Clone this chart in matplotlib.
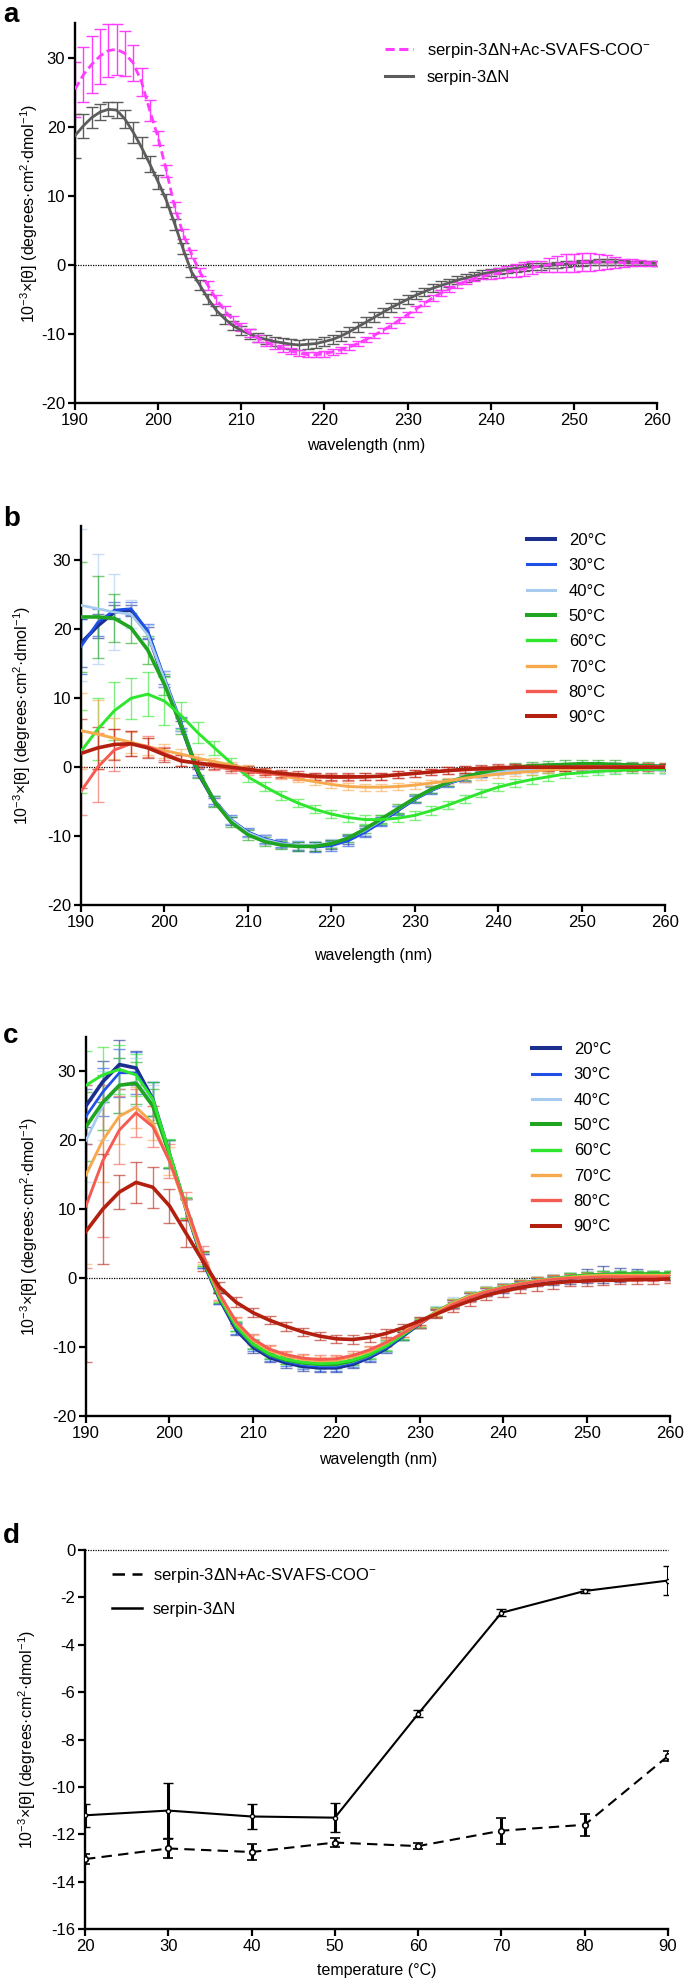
import matplotlib
matplotlib.use('Agg')
import matplotlib.pyplot as plt
from matplotlib.lines import Line2D

plt.rcParams['font.family'] = ['Liberation Sans', 'DejaVu Sans']
plt.rcParams['axes.unicode_minus'] = False
plt.rcParams['mathtext.default'] = 'regular'

# ---------------- data ----------------
wl_a = list(range(190, 261))
gray_a = [18.7, 20.1, 21.3, 22.1, 22.5, 22.4, 21.1, 19.2, 17.0, 14.6,
          12.0, 9.3, 5.9, 2.3, -1.0, -2.9, -4.9, -6.6, -7.8, -8.8,
          -9.5, -10.0, -10.5, -10.8, -11.1, -11.3, -11.5, -11.6, -11.5, -11.4,
          -11.1, -10.8, -10.3, -9.7, -9.0, -8.3, -7.6, -6.9, -6.2, -5.6,
          -5.0, -4.4, -3.9, -3.4, -3.0, -2.6, -2.2, -1.9, -1.6, -1.3,
          -1.1, -0.9, -0.7, -0.5, -0.4, -0.3, -0.2, -0.1, 0.0, 0.1,
          0.2, 0.3, 0.35, 0.4, 0.4, 0.4, 0.35, 0.3, 0.3, 0.25,
          0.2]
gray_a_err = [3.2, 1.8, 1.5, 1.2, 1.0, 1.1, 1.3, 1.5, 1.5, 1.2,
              1.0, 0.9, 0.8, 0.8, 0.7, 0.7, 0.7, 0.7, 0.7, 0.7,
              0.7, 0.7, 0.7, 0.7, 0.7, 0.7, 0.7, 0.7, 0.7, 0.7,
              0.7, 0.7, 0.7, 0.7, 0.7, 0.7, 0.7, 0.7, 0.7, 0.7,
              0.6, 0.6, 0.6, 0.6, 0.6, 0.6, 0.6, 0.6, 0.6, 0.6,
              0.5, 0.5, 0.5, 0.5, 0.5, 0.5, 0.5, 0.4, 0.4, 0.4,
              0.4, 0.4, 0.4, 0.4, 0.4, 0.4, 0.4, 0.3, 0.3, 0.3,
              0.3]
magenta_a = [25.4, 27.5, 29.0, 30.2, 31.0, 31.2, 30.6, 29.2, 26.5, 22.3,
             18.4, 13.6, 8.3, 4.5, 1.6, -1.0, -3.0, -5.0, -6.6, -8.0,
             -9.0, -9.9, -10.6, -11.2, -11.7, -12.1, -12.5, -12.8, -13.0, -13.0,
             -12.9, -12.6, -12.3, -11.9, -11.4, -10.8, -10.2, -9.5, -8.8, -8.0,
             -7.2, -6.4, -5.6, -4.8, -4.1, -3.5, -2.9, -2.4, -2.0, -1.7,
             -1.4, -1.2, -1.0, -0.8, -0.6, -0.4, -0.2, 0.0, 0.1, 0.2,
             0.3, 0.4, 0.4, 0.4, 0.4, 0.4, 0.3, 0.3, 0.3, 0.2,
             0.2]
magenta_a_err = [4.0, 4.0, 4.1, 4.0, 3.8, 3.7, 3.2, 2.6, 2.0, 1.5,
                 1.0, 0.9, 0.8, 0.7, 0.6, 0.6, 0.6, 0.6, 0.6, 0.6,
                 0.6, 0.6, 0.5, 0.5, 0.5, 0.5, 0.4, 0.4, 0.4, 0.4,
                 0.4, 0.4, 0.4, 0.4, 0.4, 0.4, 0.4, 0.4, 0.4, 0.4,
                 0.4, 0.4, 0.4, 0.4, 0.4, 0.4, 0.4, 0.4, 0.4, 0.4,
                 0.6, 0.7, 0.8, 0.9, 1.0, 0.9, 0.8, 1.0, 1.2, 1.3,
                 1.3, 1.3, 1.3, 1.2, 1.0, 0.8, 0.6, 0.5, 0.4, 0.3,
                 0.3]

wl_bc = list(range(190, 261, 2))
temp_labels = ['20°C', '30°C', '40°C', '50°C', '60°C', '70°C', '80°C', '90°C']

b20 = [18.0, 20.5, 22.5, 22.8, 19.5, 12.5, 6.0, -0.8, -5.0, -7.8, -9.5, -10.5, -11.1, -11.4, -11.5, -11.2, -10.5, -9.3,
       -7.8, -6.2, -4.6, -3.3, -2.3, -1.6, -1.0, -0.6, -0.3, -0.1, 0.0, 0.1, 0.2, 0.2, 0.2, 0.1, 0.1, 0.1]
b30 = [17.5, 21.0, 22.8, 23.0, 19.8, 13.0, 6.5, -0.5, -4.8, -7.6, -9.4, -10.4, -11.0, -11.4, -11.6, -11.4, -10.7, -9.5,
       -8.0, -6.3, -4.7, -3.4, -2.4, -1.6, -1.0, -0.6, -0.3, -0.1, 0.0, 0.1, 0.2, 0.2, 0.2, 0.2, 0.1, 0.1]
b40 = [23.5, 23.0, 22.5, 22.2, 19.2, 12.8, 6.2, -0.6, -4.9, -7.7, -9.5, -10.5, -11.1, -11.3, -11.3, -11.0, -10.3, -9.2,
       -7.7, -6.1, -4.6, -3.3, -2.3, -1.6, -1.1, -0.7, -0.5, -0.4, -0.3, -0.3, -0.3, -0.3, -0.3, -0.4, -0.4, -0.5]
b50 = [21.8, 21.8, 21.6, 20.2, 17.0, 12.0, 6.0, -0.5, -5.0, -8.0, -9.8, -10.8, -11.3, -11.5, -11.5, -11.1, -10.3, -9.0,
       -7.5, -6.0, -4.5, -3.2, -2.2, -1.4, -0.8, -0.3, 0.0, 0.2, 0.3, 0.4, 0.5, 0.5, 0.4, 0.3, 0.2, 0.1]
b60 = [2.3, 5.5, 8.2, 10.0, 10.6, 9.6, 7.5, 5.0, 2.8, 0.6, -1.4, -2.8, -4.1, -5.2, -6.1, -6.8, -7.3, -7.6,
       -7.6, -7.4, -7.0, -6.3, -5.5, -4.6, -3.7, -2.9, -2.3, -1.8, -1.4, -1.0, -0.8, -0.6, -0.5, -0.4, -0.3, -0.3]
b70 = [5.3, 4.8, 4.2, 3.6, 3.0, 2.4, 1.9, 1.3, 0.8, 0.3, -0.2, -0.7, -1.2, -1.7, -2.1, -2.5, -2.8, -2.9,
       -2.9, -2.8, -2.6, -2.3, -2.0, -1.6, -1.3, -1.0, -0.8, -0.6, -0.4, -0.3, -0.2, -0.1, -0.1, 0.0, 0.0, 0.0]
b80 = [-3.5, 0.0, 2.5, 3.4, 3.0, 2.0, 1.0, 0.5, 0.1, -0.3, -0.6, -0.9, -1.1, -1.3, -1.4, -1.5, -1.5, -1.4,
       -1.3, -1.1, -0.9, -0.7, -0.5, -0.4, -0.3, -0.2, -0.1, 0.0, 0.0, 0.0, 0.1, 0.1, 0.1, 0.1, 0.1, 0.1]
b90 = [2.0, 2.8, 3.3, 3.4, 2.8, 1.8, 0.9, 0.6, 0.3, 0.0, -0.3, -0.6, -0.9, -1.1, -1.3, -1.4, -1.4, -1.4,
       -1.3, -1.1, -0.9, -0.7, -0.5, -0.3, -0.2, -0.1, 0.0, 0.0, 0.0, 0.0, 0.0, 0.0, 0.0, 0.0, 0.0, 0.0]

b20_err = [3.5, 1.8, 1.0, 0.8, 0.9, 0.8, 0.7, 0.6, 0.6, 0.6, 0.6, 0.6, 0.6, 0.6, 0.6, 0.7, 0.7, 0.7,
           0.6, 0.6, 0.5, 0.5, 0.5, 0.4, 0.4, 0.4, 0.4, 0.4, 0.4, 0.4, 0.4, 0.4, 0.4, 0.4, 0.4, 0.4]
b30_err = [4.0, 2.0, 1.2, 0.9, 1.0, 0.9, 0.8, 0.7, 0.6, 0.6, 0.6, 0.6, 0.6, 0.7, 0.7, 0.7, 0.7, 0.7,
           0.6, 0.6, 0.5, 0.5, 0.5, 0.5, 0.4, 0.4, 0.4, 0.4, 0.4, 0.4, 0.4, 0.4, 0.4, 0.4, 0.4, 0.4]
b40_err = [11.0, 8.0, 5.5, 2.0, 1.5, 1.2, 1.0, 0.8, 0.7, 0.6, 0.6, 0.6, 0.6, 0.6, 0.6, 0.6, 0.6, 0.6,
           0.6, 0.5, 0.5, 0.5, 0.5, 0.5, 0.5, 0.5, 0.5, 0.5, 0.5, 0.5, 0.5, 0.5, 0.5, 0.5, 0.5, 0.5]
b50_err = [8.0, 6.0, 3.5, 2.2, 2.0, 1.5, 1.2, 1.0, 0.8, 0.7, 0.7, 0.6, 0.6, 0.6, 0.6, 0.6, 0.6, 0.6,
           0.6, 0.6, 0.6, 0.5, 0.5, 0.5, 0.5, 0.5, 0.6, 0.6, 0.6, 0.6, 0.6, 0.6, 0.6, 0.5, 0.5, 0.5]
b60_err = [6.0, 4.5, 4.2, 3.0, 3.2, 3.5, 2.0, 1.5, 1.0, 0.8, 0.7, 0.7, 0.6, 0.6, 0.6, 0.6, 0.6, 0.6,
           0.6, 0.6, 0.6, 0.6, 0.6, 0.6, 0.6, 0.6, 0.6, 0.6, 0.6, 0.5, 0.5, 0.5, 0.5, 0.5, 0.5, 0.5]
b70_err = [5.5, 5.0, 3.0, 1.5, 1.2, 1.0, 0.8, 0.6, 0.5, 0.5, 0.5, 0.5, 0.5, 0.5, 0.5, 0.5, 0.5, 0.5,
           0.5, 0.5, 0.5, 0.5, 0.5, 0.5, 0.5, 0.5, 0.5, 0.5, 0.5, 0.5, 0.5, 0.5, 0.5, 0.5, 0.5, 0.5]
b80_err = [3.5, 5.0, 3.0, 1.8, 1.5, 1.0, 0.8, 0.6, 0.5, 0.5, 0.5, 0.5, 0.5, 0.5, 0.5, 0.5, 0.5, 0.5,
           0.5, 0.5, 0.5, 0.5, 0.5, 0.5, 0.5, 0.5, 0.5, 0.5, 0.5, 0.5, 0.5, 0.5, 0.5, 0.5, 0.5, 0.5]
b90_err = [5.0, 3.0, 2.2, 1.8, 1.5, 1.0, 0.8, 0.6, 0.5, 0.5, 0.5, 0.5, 0.5, 0.5, 0.5, 0.5, 0.5, 0.5,
           0.5, 0.5, 0.5, 0.5, 0.5, 0.5, 0.5, 0.5, 0.5, 0.5, 0.5, 0.5, 0.5, 0.5, 0.5, 0.5, 0.5, 0.5]

c20 = [25.0, 28.5, 31.0, 30.5, 26.0, 18.0, 10.0, 2.5, -3.0, -7.5, -10.0, -11.5, -12.3, -12.8, -13.0, -13.0, -12.5, -11.5,
       -10.2, -8.4, -6.6, -5.0, -3.7, -2.7, -2.0, -1.5, -1.0, -0.6, -0.3, 0.0, 0.3, 0.5, 0.5, 0.5, 0.4, 0.4]
c30 = [23.5, 27.0, 29.8, 29.8, 26.0, 18.0, 10.0, 2.5, -3.0, -7.3, -9.8, -11.3, -12.1, -12.6, -12.8, -12.8, -12.3, -11.4,
       -10.1, -8.4, -6.6, -5.0, -3.7, -2.7, -2.0, -1.4, -0.9, -0.5, -0.2, 0.1, 0.4, 0.6, 0.6, 0.5, 0.4, 0.4]
c40 = [20.0, 25.0, 28.0, 28.5, 25.5, 18.0, 10.0, 2.6, -2.8, -7.0, -9.6, -11.1, -11.9, -12.4, -12.6, -12.6, -12.1, -11.2,
       -9.9, -8.2, -6.5, -4.8, -3.5, -2.5, -1.8, -1.2, -0.7, -0.3, 0.0, 0.2, 0.4, 0.5, 0.5, 0.5, 0.5, 0.5]
c50 = [22.0, 25.5, 28.0, 28.3, 25.0, 18.0, 10.2, 2.8, -2.8, -7.0, -9.6, -11.1, -11.9, -12.3, -12.5, -12.5, -12.0, -11.1,
       -9.8, -8.2, -6.5, -4.9, -3.6, -2.6, -1.9, -1.3, -0.8, -0.4, -0.1, 0.2, 0.4, 0.5, 0.6, 0.6, 0.6, 0.6]
c60 = [28.0, 29.5, 30.3, 29.5, 26.0, 18.2, 10.3, 2.8, -2.7, -6.9, -9.5, -11.0, -11.8, -12.2, -12.4, -12.3, -11.9, -11.0,
       -9.8, -8.2, -6.5, -4.9, -3.6, -2.6, -1.9, -1.3, -0.8, -0.4, -0.1, 0.2, 0.4, 0.5, 0.5, 0.5, 0.5, 0.5]
c70 = [15.0, 20.0, 23.5, 24.8, 22.5, 17.0, 10.0, 3.0, -2.5, -6.5, -9.0, -10.5, -11.3, -11.8, -12.0, -11.9, -11.4, -10.6,
       -9.4, -7.9, -6.4, -4.9, -3.6, -2.6, -1.9, -1.3, -0.8, -0.4, -0.1, 0.1, 0.3, 0.4, 0.4, 0.4, 0.4, 0.4]
c80 = [10.5, 17.0, 21.5, 24.0, 22.0, 17.0, 10.5, 3.5, -2.3, -6.3, -8.8, -10.3, -11.1, -11.6, -11.8, -11.7, -11.2, -10.4,
       -9.3, -8.0, -6.6, -5.1, -3.8, -2.8, -2.0, -1.4, -0.9, -0.5, -0.2, 0.0, 0.1, 0.2, 0.2, 0.2, 0.2, 0.2]
c90 = [6.8, 10.0, 12.5, 13.9, 13.2, 10.5, 6.5, 2.5, -1.3, -3.5, -5.0, -6.1, -7.0, -7.8, -8.4, -8.8, -8.9, -8.6,
       -8.0, -7.2, -6.2, -5.2, -4.2, -3.3, -2.5, -1.9, -1.4, -1.0, -0.7, -0.5, -0.4, -0.3, -0.3, -0.2, -0.2, -0.1]

c20_err = [3.0, 3.0, 3.5, 2.5, 2.5, 2.0, 1.5, 1.0, 0.8, 0.8, 0.8, 0.7, 0.7, 0.6, 0.6, 0.6, 0.6, 0.6,
           0.6, 0.6, 0.6, 0.6, 0.6, 0.6, 0.6, 0.6, 0.6, 0.6, 0.7, 0.8, 1.0, 1.2, 1.0, 0.8, 0.6, 0.6]
c30_err = [4.0, 3.5, 3.5, 3.0, 2.5, 2.0, 1.5, 1.0, 0.8, 0.8, 0.7, 0.7, 0.6, 0.6, 0.6, 0.6, 0.6, 0.6,
           0.6, 0.6, 0.6, 0.6, 0.6, 0.6, 0.6, 0.5, 0.5, 0.5, 0.5, 0.5, 0.5, 0.5, 0.5, 0.5, 0.5, 0.5]
c40_err = [6.0, 5.0, 4.0, 3.5, 2.5, 2.0, 1.5, 1.0, 0.8, 0.7, 0.7, 0.6, 0.6, 0.6, 0.6, 0.6, 0.6, 0.7,
           0.8, 0.8, 0.8, 0.8, 0.7, 0.6, 0.6, 0.5, 0.5, 0.5, 0.5, 0.5, 0.5, 0.5, 0.5, 0.5, 0.5, 0.5]
c50_err = [5.0, 4.0, 4.0, 3.0, 2.5, 2.0, 1.5, 1.0, 0.8, 0.7, 0.7, 0.6, 0.6, 0.6, 0.6, 0.6, 0.6, 0.7,
           0.8, 0.8, 0.7, 0.7, 0.6, 0.6, 0.6, 0.5, 0.5, 0.5, 0.5, 0.5, 0.5, 0.5, 0.5, 0.5, 0.5, 0.5]
c60_err = [5.0, 4.0, 3.5, 3.0, 2.5, 2.0, 1.5, 1.0, 0.8, 0.7, 0.7, 0.6, 0.6, 0.6, 0.6, 0.6, 0.6, 0.6,
           0.6, 0.6, 0.6, 0.6, 0.6, 0.6, 0.6, 0.5, 0.5, 0.5, 0.5, 0.5, 0.5, 0.5, 0.5, 0.5, 0.6, 0.6]
c70_err = [13.0, 6.0, 4.0, 3.0, 2.5, 2.0, 1.5, 1.0, 0.8, 0.7, 0.7, 0.6, 0.6, 0.6, 0.6, 0.6, 0.6, 0.6,
           0.6, 0.6, 0.6, 0.6, 0.6, 0.6, 0.6, 0.5, 0.5, 0.5, 0.5, 0.5, 0.5, 0.5, 0.5, 0.5, 0.5, 0.5]
c80_err = [9.0, 11.0, 5.0, 3.5, 3.0, 2.5, 2.0, 1.2, 0.8, 0.7, 0.7, 0.6, 0.6, 0.6, 0.6, 0.6, 0.6, 0.6,
           0.6, 0.6, 0.6, 0.6, 0.6, 0.6, 0.6, 0.6, 0.6, 0.6, 0.6, 0.6, 0.6, 0.6, 0.6, 0.6, 0.6, 0.6]
c90_err = [19.0, 8.0, 2.5, 3.0, 3.0, 2.5, 2.0, 1.5, 0.8, 0.7, 0.7, 0.6, 0.6, 0.6, 0.6, 0.6, 0.6, 0.6,
           0.6, 0.6, 0.6, 0.6, 0.7, 0.7, 0.7, 0.8, 0.8, 0.8, 0.8, 0.7, 0.7, 0.7, 0.6, 0.6, 0.6, 0.6]

temps_d = [20, 30, 40, 50, 60, 70, 80, 90]
d_pep = [-13.05, -12.6, -12.75, -12.35, -12.5, -11.85, -11.6, -8.7]
d_pep_err = [0.2, 0.42, 0.35, 0.2, 0.12, 0.55, 0.47, 0.2]
d_apo = [-11.2, -11.0, -11.25, -11.3, -6.92, -2.65, -1.73, -1.29]
d_apo_err = [0.48, 1.15, 0.52, 0.6, 0.15, 0.15, 0.08, 0.6]

label_pep = 'serpin-3ΔN+Ac-SVAFS-COO$^{-}$'
label_apo = 'serpin-3ΔN'
ylab = '10$^{-3}$×[θ] (degrees·cm$^{2}$·dmol$^{-1}$)'

# ---------------- styling ----------------
MAG = '#ff3dff'
GRAY = '#5c5c5c'
temp_colors = ['#1c2f8f', '#1f50e6', '#a7cbef', '#1fa51f', '#2ee62e', '#f7a94e', '#f45b52', '#b3200f']
temp_lw = [2.6, 1.9, 1.9, 2.6, 2.1, 2.1, 2.1, 2.6]

W, H = 685, 1984
fig = plt.figure(figsize=(W / 100, H / 100), dpi=100)


def add_ax(l, r, t, b):
    return fig.add_axes([l / W, 1 - b / H, (r - l) / W, (b - t) / H])


def style(ax, xlim, ylim, xticks, yticks):
    ax.set_xlim(*xlim)
    ax.set_ylim(*ylim)
    ax.set_xticks(xticks)
    ax.set_yticks(yticks)
    for s in ['top', 'right']:
        ax.spines[s].set_visible(False)
    for s in ['left', 'bottom']:
        ax.spines[s].set_linewidth(1.7)
    ax.tick_params(direction='out', length=5, width=1.6, labelsize=12, pad=2)


def labels(ax, xlabel, ylab_x, xlab_y):
    ax.set_xlabel(xlabel, fontsize=11.5)
    ax.set_ylabel(ylab, fontsize=11.5)
    ax.xaxis.set_label_coords(0.5, xlab_y)
    ax.yaxis.set_label_coords(ylab_x, 0.5)


axa = add_ax(75, 657, 23, 403)
axb = add_ax(81, 665, 526, 905)
axc = add_ax(86, 670, 1037, 1416)
axd = add_ax(85, 668, 1550, 1929)

# ---------------- panel a ----------------
axa.axhline(0, color='black', ls=(0, (1, 1)), lw=0.9, zorder=1)
axa.errorbar(wl_a, gray_a, yerr=gray_a_err, fmt='none', ecolor=GRAY, elinewidth=1.0,
             capsize=4.5, capthick=1.0, zorder=2)
axa.errorbar(wl_a, magenta_a, yerr=magenta_a_err, fmt='none', ecolor=MAG, elinewidth=1.0,
             capsize=4.5, capthick=1.0, zorder=2)
axa.plot(wl_a, gray_a, color=GRAY, lw=2.0, zorder=3)
axa.plot(wl_a, magenta_a, color=MAG, lw=2.0, ls=(0, (3, 1.5)), zorder=3)
style(axa, (190, 260), (-20, 35), range(190, 261, 10), range(-20, 31, 10))
labels(axa, 'wavelength (nm)', -0.06, -0.092)
ha = [Line2D([], [], color=MAG, lw=2.2, ls=(0, (3, 1.5))), Line2D([], [], color=GRAY, lw=2.2)]
fig.legend(ha, [label_pep, label_apo], loc='upper left', bbox_to_anchor=(385 / W, 1 - 41 / H),
           frameon=False, fontsize=12, handlelength=1.7, handletextpad=0.8, labelspacing=0.6,
           borderpad=0, borderaxespad=0)

# ---------------- panels b & c ----------------
b_vals = [b20, b30, b40, b50, b60, b70, b80, b90]
b_errs = [b20_err, b30_err, b40_err, b50_err, b60_err, b70_err, b80_err, b90_err]
c_vals = [c20, c30, c40, c50, c60, c70, c80, c90]
c_errs = [c20_err, c30_err, c40_err, c50_err, c60_err, c70_err, c80_err, c90_err]

for ax, vals, errs, leg_x, leg_top, ylx, xly in [
        (axb, b_vals, b_errs, 527, 533, -0.082, -0.113),
        (axc, c_vals, c_errs, 532, 1042, -0.079, -0.095)]:
    ax.axhline(0, color='black', ls=(0, (1, 1)), lw=0.9, zorder=1)
    for v, e, col in zip(vals, errs, temp_colors):
        ax.errorbar(wl_bc, v, yerr=e, fmt='none', ecolor=col, elinewidth=1.0,
                    capsize=4.5, capthick=1.0, alpha=0.6, zorder=2)
    for v, col, lw in zip(vals, temp_colors, temp_lw):
        ax.plot(wl_bc, v, color=col, lw=lw, zorder=3)
    style(ax, (190, 260), (-20, 35), range(190, 261, 10), range(-20, 31, 10))
    labels(ax, 'wavelength (nm)', ylx, xly)
    hs = [Line2D([], [], color=c, lw=lw + 0.3) for c, lw in zip(temp_colors, temp_lw)]
    fig.legend(hs, temp_labels, loc='upper left', bbox_to_anchor=(leg_x / W, 1 - leg_top / H),
               frameon=False, fontsize=12, handlelength=1.65, handletextpad=0.85, labelspacing=0.62,
               borderpad=0, borderaxespad=0)

# ---------------- panel d ----------------
axd.axhline(0, color='black', ls=(0, (1, 1)), lw=0.9, zorder=1, clip_on=False)
axd.errorbar(temps_d, d_apo, yerr=d_apo_err, color='black', lw=1.5, ls='-',
             elinewidth=2.2, capsize=3.5, capthick=2.2, marker='o', ms=3,
             mfc='white', mec='black', mew=1.0, zorder=3)
axd.errorbar(temps_d, d_pep, yerr=d_pep_err, color='black', lw=1.5, ls=(0, (5, 3)),
             elinewidth=2.2, capsize=3.5, capthick=2.2, marker='o', ms=4,
             mfc='white', mec='black', mew=1.2, zorder=3)
style(axd, (20, 90), (-16, 0), range(20, 91, 10), range(-16, 1, 2))
for sp in ['left', 'bottom']:
    axd.spines[sp].set_linewidth(1.7)
axd.set_xlabel('temperature (°C)', fontsize=11.5)
axd.set_ylabel(ylab, fontsize=11.5)
axd.xaxis.set_label_coords(0.5, -0.09)
axd.yaxis.set_label_coords(-0.081, 0.5)
hd = [Line2D([], [], color='black', lw=1.8, ls=(0, (5, 3))), Line2D([], [], color='black', lw=1.8)]
fig.legend(hd, [label_pep, label_apo], loc='upper left', bbox_to_anchor=(112 / W, 1 - 1566 / H),
           frameon=False, fontsize=12, handlelength=1.8, handletextpad=0.65, labelspacing=1.0,
           borderpad=0, borderaxespad=0)

# ---------------- panel letters ----------------
for letter, yb in [('a', 22), ('b', 526), ('c', 1043), ('d', 1543)]:
    fig.text(3 / W, 1 - yb / H, letter, fontsize=20, fontweight='bold', va='baseline', ha='left')

fig.savefig('out.png', dpi=100)
